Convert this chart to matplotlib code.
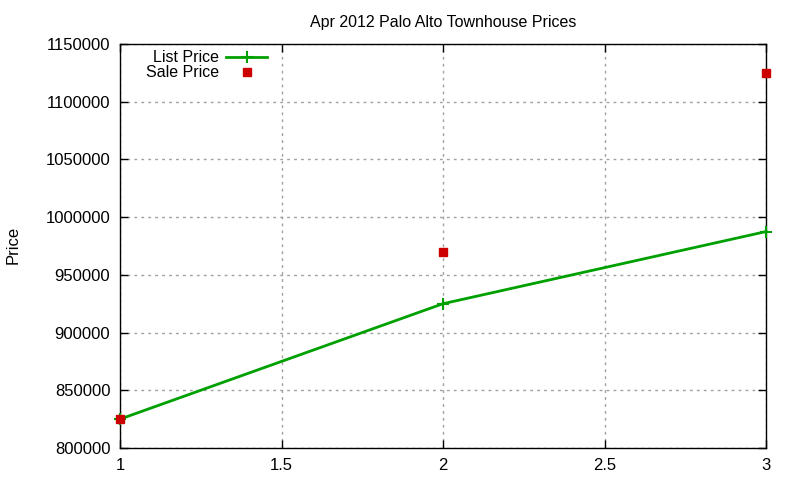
import matplotlib
matplotlib.use("Agg")
import matplotlib.pyplot as plt
from matplotlib.ticker import MultipleLocator

x_vals = [1, 2, 3]
list_price = [825000, 925000, 987500]
sale_price = [825000, 970000, 1125000]
title = "Apr 2012 Palo Alto Townhouse Prices"

plt.rcParams['font.family'] = ['Liberation Sans', 'DejaVu Sans']
fig = plt.figure(figsize=(8, 4.8), dpi=100)
ax = fig.add_axes([0.15, 0.0667, 0.8075, 0.8416])

ax.plot(x_vals, list_price, color='#00a000', lw=2, marker='+', ms=9, mew=1.5,
        label='List Price', clip_on=False, zorder=3)
ax.plot(x_vals, sale_price, ls='none', marker='s', ms=6, color='#cc0000',
        label='Sale Price', clip_on=False, zorder=4)

ax.set_xlim(1, 3)
ax.set_ylim(800000, 1150000)
ax.set_xticks([1, 1.5, 2, 2.5, 3])
ax.set_xticklabels(['1', '1.5', '2', '2.5', '3'])
ax.yaxis.set_major_locator(MultipleLocator(50000))
ax.ticklabel_format(axis='y', style='plain', useOffset=False)
ax.tick_params(direction='in', top=True, right=True, length=6, width=1,
               labelsize=12, pad=7)
ax.grid(True, color='#a0a0a0', ls=(0, (2, 3)), lw=1)
for s in ax.spines.values():
    s.set_linewidth(1)
ax.set_title(title, fontsize=11.5, pad=12)
fig.text(13 / 800, 1 - 245 / 480, 'Price', rotation=90, va='center',
         ha='center', fontsize=12)

leg = ax.legend(loc='upper right', bbox_to_anchor=(0.238, 1.0), markerfirst=False,
                frameon=False, fontsize=11.5, handlelength=2.6, labelspacing=0.0,
                handletextpad=0.45, borderaxespad=0.0)
for t in leg.get_texts():
    t.set_ha('right')

fig.savefig('out.png', dpi=100)
